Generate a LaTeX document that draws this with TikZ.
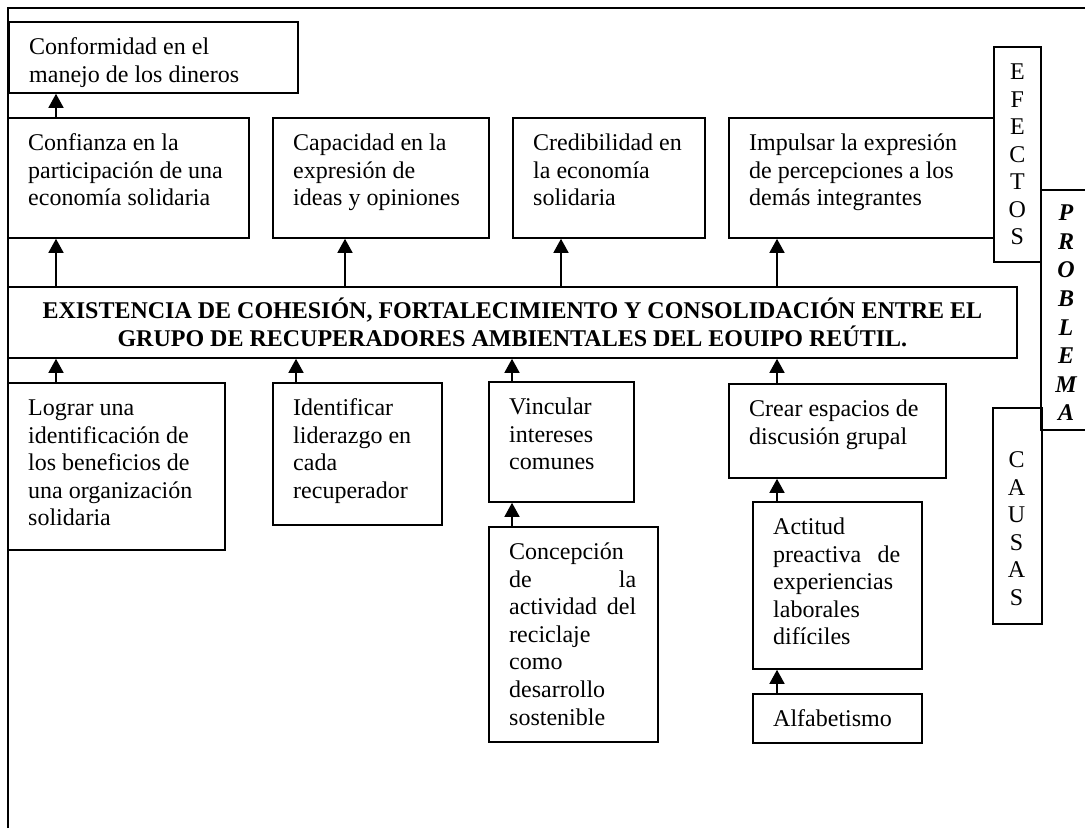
\documentclass[tikz,border=0pt]{standalone}
\usepackage{fontspec}
\setmainfont{Liberation Serif}
\usetikzlibrary{arrows.meta}
\newcommand\mybox[6]{%
  \node[box, minimum width={#4-#2}, minimum height={#5-#3}] (#1) at (#2,#3) {};
  \node[txt] (#1-t) at ([xshift=21pt,yshift=-14pt]#1.north west) {\strut #6};
}
\begin{document}
\begin{tikzpicture}[x=1pt,y=-1pt,
  box/.style={draw, line width=1.8pt, inner sep=0pt, anchor=north west, rectangle},
  txt/.style={anchor=north west, inner sep=0pt, align=left, font=\fontsize{24}{27.6}\selectfont},
  vtxt/.style={inner sep=0pt, align=center, font=\fontsize{24}{27.5}\selectfont},
  arr/.style={line width=1.5pt, -{Triangle[width=15pt,length=14pt]}},
  ]
\useasboundingbox (0,0) rectangle (1085,828);
% outer frame
\draw[line width=2pt] (8,828) -- (8,8) -- (1085,8);

% effects
\mybox{conf}{8}{21}{297}{92}{Conformidad en el\\manejo de los dineros}
\mybox{confi}{7}{117}{248}{237}{Confianza en la\\participación de una\\economía solidaria}
\mybox{capa}{272}{117}{488}{237}{Capacidad en la\\expresión de\\ideas y opiniones}
\mybox{cred}{512}{117}{704}{237}{Credibilidad en\\la economía\\solidaria}
\mybox{impu}{728}{117}{993}{237}{Impulsar la expresión\\de percepciones a los\\demás integrantes}

% main problem
\node[box, minimum width=1009, minimum height=71, align=center,
  font=\fontsize{24}{27.6}\selectfont\bfseries] (main) at (7,286)
  {EXISTENCIA DE COHESIÓN, FORTALECIMIENTO Y CONSOLIDACIÓN ENTRE EL\\GRUPO DE RECUPERADORES AMBIENTALES DEL EOUIPO REÚTIL.};

% causes
\mybox{logr}{7}{382}{224}{549}{Lograr una\\identificación de\\los beneficios de\\una organización\\solidaria}
\mybox{iden}{272}{382}{441}{524}{Identificar\\liderazgo en\\cada\\recuperador}
\mybox{vinc}{488}{381}{633}{501}{Vincular\\intereses\\comunes}
\mybox{crea}{728}{383}{945}{477}{Crear espacios de\\discusión grupal}

\node[box, minimum width=169, minimum height=215] (conc) at (488,526) {};
\node[txt, text width=127pt] (conc-t) at ([xshift=21pt,yshift=-14pt]conc.north west)
  {\strut Concepción\\de\hfill la\\actividad\hfill del\\reciclaje\\como\\desarrollo\\sostenible};
\node[box, minimum width=169, minimum height=167] (acti) at (752,501) {};
\node[txt, text width=127pt] (acti-t) at ([xshift=21pt,yshift=-14pt]acti.north west)
  {\strut Actitud\\preactiva\hfill de\\experiencias\\laborales\\difíciles};
\mybox{alfa}{752}{693}{921}{742}{Alfabetismo}

% side labels
\node[box, minimum width=47, minimum height=215] (efec) at (993,46) {};
\node[vtxt] (efec-t) at (efec.center) {E\\F\\E\\C\\T\\O\\S};
\node[box, minimum width=49, minimum height=216] (caus) at (992,407) {};
\node[vtxt] (caus-t) at (1016.5,528.5) {C\\A\\U\\S\\A\\S};
\draw[line width=1.8pt] (1085,190) -- (1041,190) -- (1041,430) -- (1085,430);
\node[inner sep=0pt, align=center, font=\fontsize{24}{28.6}\selectfont\bfseries\itshape] (prob-t) at (1066,313)
  {P\\R\\O\\B\\L\\E\\M\\A};

% arrow x positions
\coordinate (x1) at (56,0);
\coordinate (x2) at (345,0);
\coordinate (x3) at (561,0);
\coordinate (x4) at (777,0);
\coordinate (y2) at (296,0);
\coordinate (y3) at (512,0);

\draw[arr] (confi.north -| x1) -- (conf.south -| x1);
\draw[arr] (main.north -| x1) -- (confi.south -| x1);
\draw[arr] (main.north -| x2) -- (capa.south -| x2);
\draw[arr] (main.north -| x3) -- (cred.south -| x3);
\draw[arr] (main.north -| x4) -- (impu.south -| x4);

\draw[arr] (logr.north -| x1) -- (main.south -| x1);
\draw[arr] (iden.north -| y2) -- (main.south -| y2);
\draw[arr] (vinc.north -| y3) -- (main.south -| y3);
\draw[arr] (crea.north -| x4) -- (main.south -| x4);

\draw[arr] (conc.north -| y3) -- (vinc.south -| y3);
\draw[arr] (acti.north -| x4) -- (crea.south -| x4);
\draw[arr] (alfa.north -| x4) -- (acti.south -| x4);
\end{tikzpicture}
\end{document}
